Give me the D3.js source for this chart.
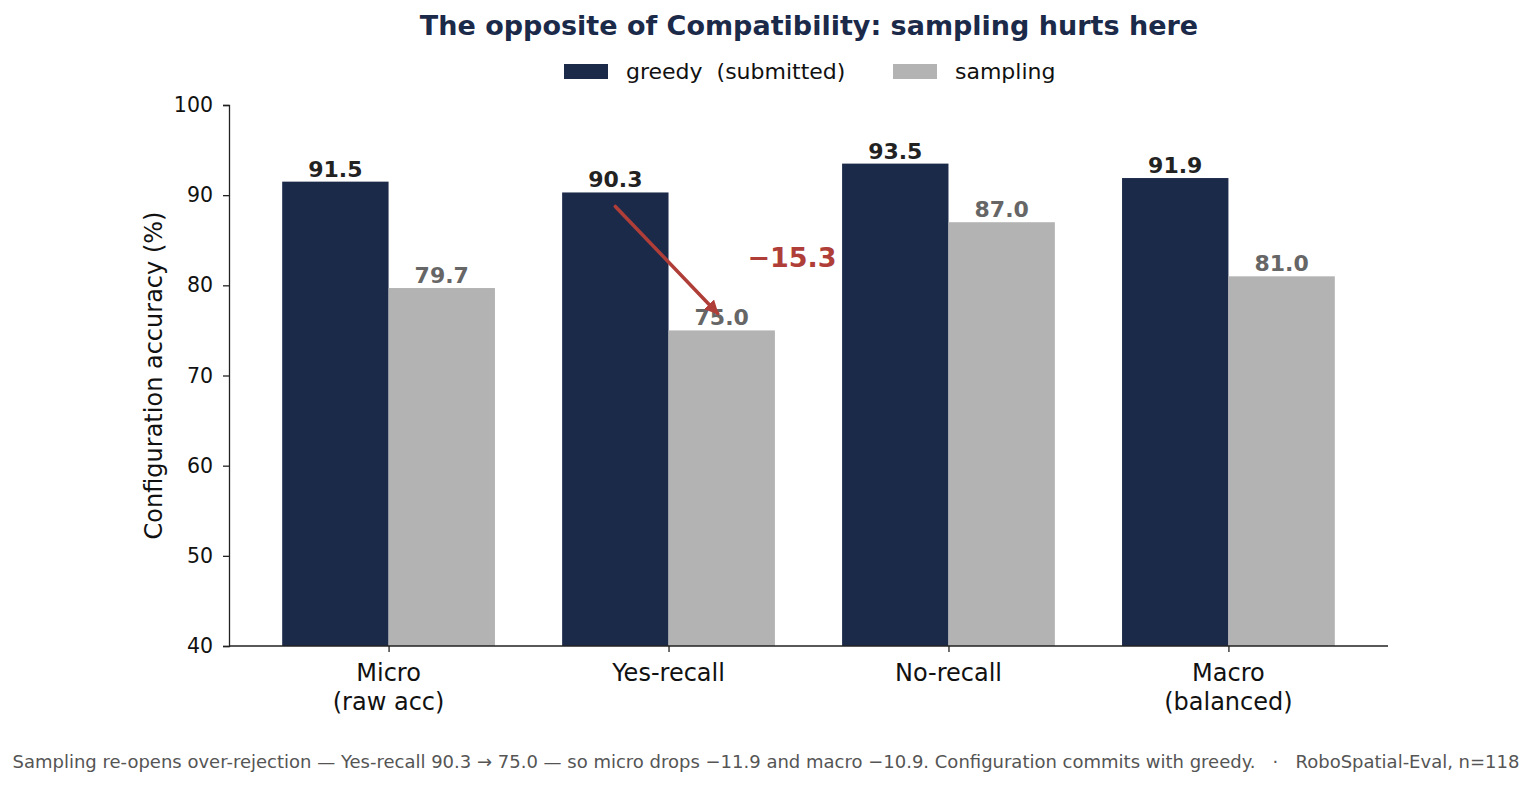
<!DOCTYPE html>
<html lang="en">
<head>
<meta charset="UTF-8">
<title>Sampling hurts here</title>
<script src="https://cdn.jsdelivr.net/npm/d3@7/dist/d3.min.js"></script>
<style>
  body { margin: 0; background: #fff; }
  svg { font-family: "DejaVu Sans", sans-serif; }
  svg text { white-space: pre; }
  .axis path, .axis line { stroke: #222; stroke-width: 1.3px; }
  .axis text { fill: #111; font-family: "DejaVu Sans", sans-serif; }
  .yaxis text { font-size: 20.5px; }
</style>
</head>
<body>
<svg id="chart" width="1532" height="786"></svg>
<script>
// data
var categories = ['Micro\n(raw acc)', 'Yes-recall', 'No-recall', 'Macro\n(balanced)'];
var greedy = [91.5, 90.3, 93.5, 91.9];
var sampling = [79.7, 75.0, 87.0, 81.0];
var seriesNames = ['greedy  (submitted)', 'sampling'];
var yTicks = [40, 50, 60, 70, 80, 90, 100];

var colGreedy = '#1c2a4a', colSampling = '#b3b3b3', colRed = '#b03e38';

var svg = d3.select('#chart');
var plotL = 229, plotR = 1388, plotT = 105, plotB = 646;

var x = d3.scaleLinear().domain([-0.57, 3.57]).range([plotL, plotR]);
var y = d3.scaleLinear().domain([40, 100]).range([plotB, plotT]);
var bw = 0.38;

// bars
var g = svg.append('g');
categories.forEach(function (c, i) {
    g.append('rect')
        .attr('x', x(i - bw)).attr('y', y(greedy[i]))
        .attr('width', x(i) - x(i - bw)).attr('height', y(40) - y(greedy[i]))
        .attr('fill', colGreedy);
    g.append('rect')
        .attr('x', x(i)).attr('y', y(sampling[i]))
        .attr('width', x(i + bw) - x(i)).attr('height', y(40) - y(sampling[i]))
        .attr('fill', colSampling);
    g.append('text')
        .attr('x', x(i - bw / 2)).attr('y', y(greedy[i]) - 5)
        .attr('text-anchor', 'middle').attr('font-size', '22px').attr('font-weight', 'bold')
        .attr('fill', '#222').text(greedy[i].toFixed(1));
    g.append('text')
        .attr('x', x(i + bw / 2)).attr('y', y(sampling[i]) - 5)
        .attr('text-anchor', 'middle').attr('font-size', '22px').attr('font-weight', 'bold')
        .attr('fill', '#666').text(sampling[i].toFixed(1));
});

// axes
svg.append('g').attr('class', 'axis yaxis')
    .attr('transform', 'translate(' + plotL + ',0)')
    .call(d3.axisLeft(y).tickValues(yTicks).tickSize(6).tickPadding(10));

var xAxis = svg.append('g').attr('class', 'axis')
    .attr('transform', 'translate(0,' + plotB + ')')
    .call(d3.axisBottom(x).tickValues([0, 1, 2, 3]).tickSize(6).tickFormat(''));
xAxis.select('.domain').attr('d', 'M' + plotL + ',0H' + plotR);

categories.forEach(function (c, i) {
    var t = svg.append('text')
        .attr('x', x(i)).attr('y', plotB + 35)
        .attr('text-anchor', 'middle').attr('font-size', '24px').attr('fill', '#111');
    c.split('\n').forEach(function (line, k) {
        t.append('tspan').attr('x', x(i)).attr('dy', k === 0 ? 0 : 29).text(line);
    });
});

svg.append('text')
    .attr('transform', 'translate(162,' + ((plotT + plotB) / 2) + ') rotate(-90)')
    .attr('text-anchor', 'middle').attr('font-size', '24px').attr('fill', '#111')
    .text('Configuration accuracy (%)');

// title
svg.append('text')
    .attr('x', 809).attr('y', 35)
    .attr('text-anchor', 'middle').attr('font-size', '27px').attr('font-weight', 'bold')
    .attr('fill', '#1c2a4a')
    .text('The opposite of Compatibility: sampling hurts here');

// legend
var legendX = [564, 893];
[colGreedy, colSampling].forEach(function (col, i) {
    svg.append('rect').attr('x', legendX[i]).attr('y', 64).attr('width', 44).attr('height', 15).attr('fill', col);
    svg.append('text').attr('x', legendX[i] + 62).attr('y', 79)
        .attr('font-size', '22px').attr('fill', '#111').text(seriesNames[i]);
});

// annotation arrow
svg.append('defs').append('marker')
    .attr('id', 'ah').attr('viewBox', '0 0 10 10').attr('refX', 9).attr('refY', 5)
    .attr('markerWidth', 4).attr('markerHeight', 4).attr('orient', 'auto')
    .append('path').attr('d', 'M0,0L10,5L0,10z').attr('fill', colRed);

svg.append('line')
    .attr('x1', x(1 - bw / 2)).attr('y1', y(greedy[1]) + 14)
    .attr('x2', x(1 + bw / 2) - 4).attr('y2', y(sampling[1]) - 17)
    .attr('stroke', colRed).attr('stroke-width', 3.5).attr('stroke-linecap', 'round')
    .attr('marker-end', 'url(#ah)');

svg.append('text')
    .attr('x', 792).attr('y', 267)
    .attr('text-anchor', 'middle').attr('font-size', '27px').attr('font-weight', 'bold')
    .attr('fill', colRed).text('\u2212' + (greedy[1] - sampling[1]).toFixed(1));

// footer
svg.append('text')
    .attr('x', 766).attr('y', 768)
    .attr('text-anchor', 'middle').attr('font-size', '18px').attr('fill', '#555')
    .text('Sampling re-opens over-rejection \u2014 Yes-recall 90.3 \u2192 75.0 \u2014 so micro drops \u221211.9 and macro \u221210.9. Configuration commits with greedy.   \u00b7   RoboSpatial-Eval, n=118');
</script>
</body>
</html>
